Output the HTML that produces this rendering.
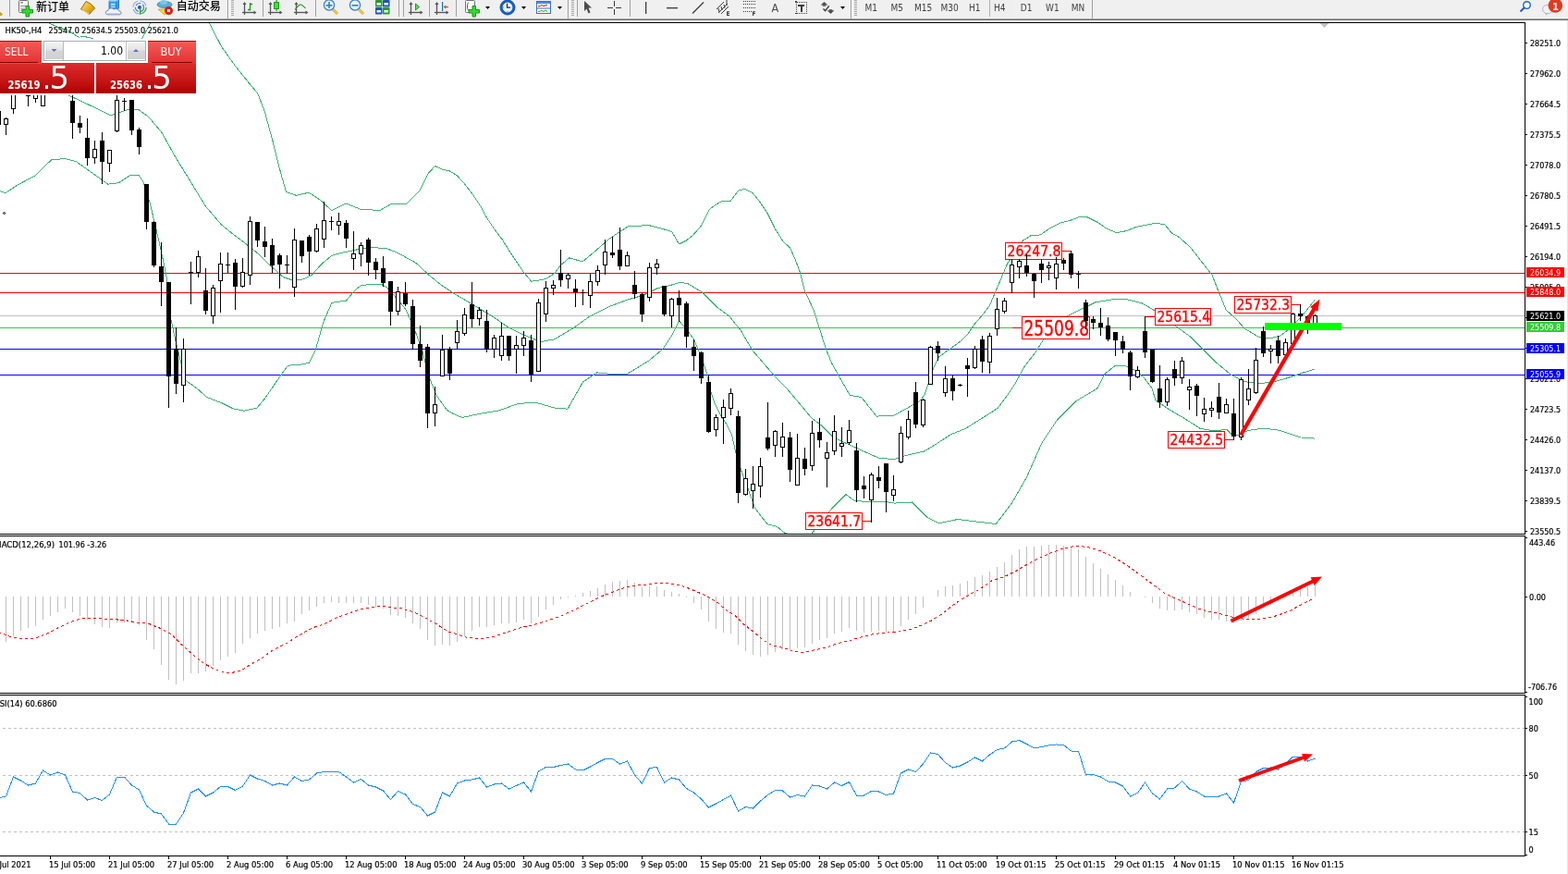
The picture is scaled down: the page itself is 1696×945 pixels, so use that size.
<!DOCTYPE html><html><head><meta charset="utf-8"><title>HK50 H4</title><style>html,body{margin:0;padding:0;background:#fff;overflow:hidden;width:1696px;height:945px}svg text{white-space:pre}.ax text,.axt{stroke:#000;stroke-width:0.2px}</style></head><body><svg width="1696" height="945" viewBox="0 0 1696 945" style="display:block;font-family:'DejaVu Sans Condensed', 'Liberation Sans', 'Noto Sans CJK SC', sans-serif"><defs><clipPath id="cm"><rect x="0" y="25" width="1649" height="552"/></clipPath><clipPath id="cmacd"><rect x="0" y="580" width="1649" height="169"/></clipPath><clipPath id="crsi"><rect x="0" y="752" width="1649" height="173"/></clipPath><linearGradient id="gTop" x1="0" y1="0" x2="0" y2="1"><stop offset="0" stop-color="#f75a5a"/><stop offset="1" stop-color="#e03434"/></linearGradient><linearGradient id="gBot" x1="0" y1="0" x2="0" y2="1"><stop offset="0" stop-color="#dc2c2c"/><stop offset="0.6" stop-color="#c41414"/><stop offset="1" stop-color="#b00000"/></linearGradient><linearGradient id="gBtn" x1="0" y1="0" x2="0" y2="1"><stop offset="0" stop-color="#f2f2f2"/><stop offset="0.45" stop-color="#e4e4e4"/><stop offset="0.5" stop-color="#d6d6d6"/><stop offset="1" stop-color="#d0d0d0"/></linearGradient></defs><rect x="0" y="0" width="1696" height="945" fill="#ffffff"/><defs><pattern id="chk" width="2" height="2" patternUnits="userSpaceOnUse"><rect width="2" height="2" fill="#f7f7f7"/><rect width="1" height="1" fill="#e6e6e6"/><rect x="1" y="1" width="1" height="1" fill="#e6e6e6"/></pattern><radialGradient id="gClock" cx="0.45" cy="0.4" r="0.6"><stop offset="0" stop-color="#ffffff"/><stop offset="1" stop-color="#dfe8f2"/></radialGradient><linearGradient id="gGold" x1="0" y1="0" x2="1" y2="1"><stop offset="0" stop-color="#ffe680"/><stop offset="0.5" stop-color="#e8b820"/><stop offset="1" stop-color="#b07810"/></linearGradient></defs><rect x="0" y="0" width="1696" height="20" fill="#f0f0f0"/><rect x="0" y="19" width="1696" height="1" fill="#f4f4f4"/><rect x="0" y="20" width="1696" height="1" fill="#a3a3a3"/><rect x="0" y="21" width="1696" height="1" fill="#6b6b6b"/><g shape-rendering="crispEdges"><polygon points="0,13 2,14 3,16 1,17 0,17" fill="#d4a020"/><rect x="10" y="0" width="1" height="18" fill="#a0a0a0"/></g><rect x="20.5" y="0.5" width="10" height="13" rx="1" fill="#fff" stroke="#707070" stroke-width="1"/><g fill="#8a8a8a"><rect x="22" y="2" width="3" height="1.5"/><rect x="22" y="6" width="6" height="1"/><rect x="22" y="8.5" width="5" height="1"/><rect x="22" y="10.5" width="3" height="1"/></g><path d="M28,6.5h3.5v4h4v3.5h-4v4h-3.5v-4h-4v-3.5h4z" fill="#2fdc2f" stroke="#139a13" stroke-width="1"/><text x="39" y="11.5" font-size="12" fill="#000" font-family="'Liberation Sans', 'Noto Sans CJK SC', sans-serif" font-weight="500">新订单</text><path d="M93,1.5 Q98,3 102.5,8.5 L96.5,15.5 Q92,12 87.5,10 Z" fill="url(#gGold)" stroke="#9a6010" stroke-width="1"/><path d="M88.5,10.8 Q92.5,12.5 96.3,15" stroke="#fff0b0" stroke-width="0.9" fill="none"/><path d="M98,13 L102.5,9" stroke="#c89030" stroke-width="1.2"/><path d="M118,1.5 L120.5,-1 L128.5,-1 L128.5,9 L126,11.5 L118,11.5 Z" fill="#3aa2f2" stroke="#1a6ac8" stroke-width="0.8"/><path d="M118,1.5 L120.5,-1 L128.5,-1 L126,1.5 Z" fill="#9ad4ff"/><rect x="125.6" y="1.5" width="0.9" height="9.5" fill="#1a78d8"/><rect x="120" y="4" width="4.5" height="1.4" fill="#e0f2ff"/><rect x="120" y="6.8" width="4.5" height="1" fill="#e0f2ff"/><path d="M116.5,15.8 C113.5,15.8 113.5,11.5 116.8,11.5 C117.5,8.2 122,8 123,10.3 C124.5,8.8 128.5,9.5 128.8,12 C131.8,12 131.8,15.8 129,15.8 Z" fill="#eef2fa" stroke="#5a78a8" stroke-width="0.9"/><path d="M116,14.6 L129.5,14.6" stroke="#c8d4ea" stroke-width="1.2"/><g fill="none" stroke-width="1.2"><circle cx="151" cy="8" r="7" stroke="#6a9ad8" stroke-dasharray="9,2" opacity="0.8"/><circle cx="151" cy="8" r="4.5" stroke="#4a7ad0" stroke-dasharray="6,2"/><path d="M151,15 A7,7 0 0 0 158,8" stroke="#50b050"/></g><circle cx="151" cy="8" r="2" fill="#1a4ec0"/><rect x="151" y="8" width="1.2" height="7.5" fill="#22a022"/><path d="M171,10 L178,16 L186,10 Z" fill="#f4d840" stroke="#c8a020" stroke-width="0.8"/><ellipse cx="178" cy="5" rx="8" ry="3.5" fill="#5ab0d8" stroke="#2a80b0" stroke-width="0.8"/><ellipse cx="177" cy="2.5" rx="4" ry="2.5" fill="#7cc8e8"/><circle cx="182.5" cy="11.5" r="4.2" fill="#e02010" stroke="#b01000" stroke-width="0.6"/><rect x="181" y="10" width="3" height="3" fill="#fff"/><text x="190.8" y="11.2" font-size="12" fill="#000" font-family="'Liberation Sans', 'Noto Sans CJK SC', sans-serif" font-weight="500">自动交易</text><g shape-rendering="crispEdges"><rect x="246" y="0" width="1" height="20" fill="#9a9a9a"/><rect x="247" y="0" width="1" height="20" fill="#ffffff"/><rect x="250" y="0" width="3" height="1" fill="#a8a8a8"/><rect x="250" y="2" width="3" height="1" fill="#a8a8a8"/><rect x="250" y="4" width="3" height="1" fill="#a8a8a8"/><rect x="250" y="6" width="3" height="1" fill="#a8a8a8"/><rect x="250" y="8" width="3" height="1" fill="#a8a8a8"/><rect x="250" y="10" width="3" height="1" fill="#a8a8a8"/><rect x="250" y="12" width="3" height="1" fill="#a8a8a8"/><rect x="250" y="14" width="3" height="1" fill="#a8a8a8"/><rect x="250" y="16" width="3" height="1" fill="#a8a8a8"/></g><g stroke="#555" stroke-width="1.3" fill="none"><line x1="264.5" y1="3" x2="264.5" y2="16"/><line x1="262" y1="13.5" x2="276" y2="13.5"/></g><polygon points="264.5,2 262.5,5 266.5,5" fill="#555"/><polygon points="277.5,13.5 274.5,11.5 274.5,15.5" fill="#555"/><g stroke="#1a9a1a" stroke-width="1.3" fill="none"><path d="M270.5,3 V11.5 M270.5,4.5 H273 M270.5,10.5 H268"/></g><g shape-rendering="crispEdges"><rect x="284" y="0" width="1" height="18" fill="#a0a0a0"/></g><rect x="285" y="0" width="24" height="18" fill="url(#chk)"/><g stroke="#555" stroke-width="1.3" fill="none"><line x1="292.5" y1="3" x2="292.5" y2="16"/><line x1="290" y1="13.5" x2="304" y2="13.5"/></g><polygon points="292.5,2 290.5,5 294.5,5" fill="#555"/><polygon points="305.5,13.5 302.5,11.5 302.5,15.5" fill="#555"/><rect x="298.5" y="0" width="1.2" height="12" fill="#1a9a1a"/><rect x="296.5" y="2.5" width="5" height="7" fill="#3ee03e" stroke="#1a9a1a" stroke-width="1"/><g stroke="#555" stroke-width="1.3" fill="none"><line x1="320.5" y1="3" x2="320.5" y2="16"/><line x1="318" y1="13.5" x2="332" y2="13.5"/></g><polygon points="320.5,2 318.5,5 322.5,5" fill="#555"/><polygon points="333.5,13.5 330.5,11.5 330.5,15.5" fill="#555"/><path d="M319,10.5 C322,7 324,4.5 325.5,5 C327.5,5.5 328.5,7.5 330.5,9" stroke="#2a9a2a" stroke-width="1.2" fill="none"/><g shape-rendering="crispEdges"><rect x="341" y="0" width="1" height="18" fill="#a0a0a0"/></g><line x1="360" y1="10" x2="365" y2="15" stroke="#c89a10" stroke-width="2.6"/><line x1="360" y1="10" x2="365" y2="15" stroke="#f8d850" stroke-width="1.2"/><circle cx="356" cy="5.5" r="5.6" fill="#e4f4fc" stroke="#3a78c8" stroke-width="1.2"/><rect x="352.5" y="5" width="7" height="1.6" fill="#3a80a8"/><rect x="355.2" y="2" width="1.6" height="7" fill="#3a80a8"/><line x1="388" y1="10" x2="393" y2="15" stroke="#c89a10" stroke-width="2.6"/><line x1="388" y1="10" x2="393" y2="15" stroke="#f8d850" stroke-width="1.2"/><circle cx="384" cy="5.5" r="5.6" fill="#e4f4fc" stroke="#3a78c8" stroke-width="1.2"/><rect x="380.5" y="5" width="7" height="1.6" fill="#3a80a8"/><rect x="406" y="0" width="7.5" height="7.5" rx="0.8" fill="#2a9a2a"/><rect x="407.5" y="3" width="4.5" height="2.5" fill="#fff"/><rect x="414" y="0" width="7.5" height="7.5" rx="0.8" fill="#2050c8"/><rect x="415.5" y="3" width="4.5" height="2.5" fill="#fff"/><rect x="406" y="8" width="7.5" height="7.5" rx="0.8" fill="#2050c8"/><rect x="407.5" y="11" width="4.5" height="2.5" fill="#fff"/><rect x="414" y="8" width="7.5" height="7.5" rx="0.8" fill="#2a9a2a"/><rect x="415.5" y="11" width="4.5" height="2.5" fill="#fff"/><g shape-rendering="crispEdges"><rect x="431" y="0" width="1" height="18" fill="#a0a0a0"/><rect x="436" y="0" width="1" height="18" fill="#a0a0a0"/></g><rect x="437" y="0" width="24" height="18" fill="url(#chk)"/><g stroke="#555" stroke-width="1.3" fill="none"><line x1="444.5" y1="3" x2="444.5" y2="16"/><line x1="442" y1="13.5" x2="456" y2="13.5"/></g><polygon points="444.5,2 442.5,5 446.5,5" fill="#555"/><polygon points="457.5,13.5 454.5,11.5 454.5,15.5" fill="#555"/><polygon points="449.5,4 453.5,7.5 449.5,11" fill="#5ee05e" stroke="#1a9a1a" stroke-width="1"/><g shape-rendering="crispEdges"><rect x="464" y="0" width="1" height="18" fill="#a0a0a0"/></g><rect x="465" y="0" width="24" height="18" fill="url(#chk)"/><g stroke="#555" stroke-width="1.3" fill="none"><line x1="472.5" y1="3" x2="472.5" y2="16"/><line x1="470" y1="13.5" x2="484" y2="13.5"/></g><polygon points="472.5,2 470.5,5 474.5,5" fill="#555"/><polygon points="485.5,13.5 482.5,11.5 482.5,15.5" fill="#555"/><rect x="478" y="2" width="1.2" height="10" fill="#1a70b0"/><polygon points="479.5,7.5 482.5,5.5 482.5,9.5" fill="#e05010"/><rect x="482" y="7" width="3" height="1.2" fill="#e05010"/><g shape-rendering="crispEdges"><rect x="493" y="0" width="1" height="18" fill="#a0a0a0"/></g><rect x="503.5" y="0.5" width="10" height="13" rx="1" fill="#fff" stroke="#707070" stroke-width="1"/><path d="M507,3 C505.5,3 505.5,5 505.5,7 C505.5,9 505.5,11 507,11" stroke="#404020" fill="none" stroke-width="0.9"/><path d="M511,6.5h3.5v4h4v3.5h-4v4h-3.5v-4h-4v-3.5h4z" fill="#2fdc2f" stroke="#139a13" stroke-width="1"/><polygon points="525,7 530,7 527.5,10" fill="#000"/><circle cx="549" cy="8" r="6.8" fill="url(#gClock)" stroke="#1760c8" stroke-width="2.8"/><circle cx="549" cy="8" r="8.1" fill="none" stroke="#0a4aa8" stroke-width="0.6"/><path d="M548.5,3.8 V8.2 H552" stroke="#202020" stroke-width="1.2" fill="none"/><g fill="#888"><rect x="548.5" y="12" width="1" height="1"/><rect x="544" y="7.5" width="1" height="1"/><rect x="553.5" y="7.5" width="1" height="1"/></g><polygon points="564,7 569,7 566.5,10" fill="#000"/><rect x="580.5" y="1.5" width="15" height="13" fill="#fff" stroke="#3a70c0" stroke-width="1"/><rect x="581" y="2" width="14" height="2" fill="#5a8ad8"/><rect x="581" y="8.5" width="14" height="1" fill="#3a70c0"/><polyline points="582,7 584.5,6.5 586,5.5 588,6.5 590,6 592,5" stroke="#a02010" fill="none" stroke-width="1"/><polyline points="582,12.5 584.5,12 586,11.5 588,12.5 590,11 592,12.5" stroke="#20a020" fill="none" stroke-width="1"/><polygon points="603,7 608,7 605.5,10" fill="#000"/><g shape-rendering="crispEdges"><rect x="614" y="0" width="1" height="20" fill="#9a9a9a"/><rect x="615" y="0" width="1" height="20" fill="#ffffff"/><rect x="618" y="0" width="3" height="1" fill="#a8a8a8"/><rect x="618" y="2" width="3" height="1" fill="#a8a8a8"/><rect x="618" y="4" width="3" height="1" fill="#a8a8a8"/><rect x="618" y="6" width="3" height="1" fill="#a8a8a8"/><rect x="618" y="8" width="3" height="1" fill="#a8a8a8"/><rect x="618" y="10" width="3" height="1" fill="#a8a8a8"/><rect x="618" y="12" width="3" height="1" fill="#a8a8a8"/><rect x="618" y="14" width="3" height="1" fill="#a8a8a8"/><rect x="618" y="16" width="3" height="1" fill="#a8a8a8"/><rect x="624" y="0" width="1" height="18" fill="#a0a0a0"/></g><rect x="625" y="0" width="24" height="18" fill="url(#chk)"/><path d="M632,1 L632,12 L634.5,9.5 L636.5,14.5 L638.5,13.5 L636.5,8.5 L640,8.5 Z" fill="#4a4a4a"/><g fill="#3a3a3a" shape-rendering="crispEdges"><rect x="664" y="1" width="1" height="6"/><rect x="664" y="10" width="1" height="6"/><rect x="657" y="8" width="6" height="1"/><rect x="666" y="8" width="6" height="1"/></g><g shape-rendering="crispEdges"><rect x="681" y="0" width="1" height="18" fill="#a0a0a0"/></g><rect x="698" y="2" width="1.3" height="13" fill="#3a3a3a"/><rect x="721" y="8" width="12" height="1.3" fill="#3a3a3a"/><line x1="749" y1="14.5" x2="761" y2="2.5" stroke="#3a3a3a" stroke-width="1.2"/><g stroke="#3a3a3a" stroke-width="1" fill="none"><line x1="775" y1="10" x2="783" y2="2"/><line x1="777" y1="14" x2="787" y2="4"/><line x1="780" y1="15" x2="788" y2="7"/><line x1="777" y1="9" x2="778" y2="13"/><line x1="780" y1="7" x2="781" y2="11"/><line x1="783" y1="5" x2="784" y2="9"/><line x1="786" y1="0" x2="786" y2="6"/></g><text x="785.5" y="17" font-size="6.5" font-weight="bold" fill="#3a3a3a">E</text><g fill="#3a3a3a" shape-rendering="crispEdges"><rect x="804" y="1" width="1" height="1"/><rect x="806" y="1" width="1" height="1"/><rect x="808" y="1" width="1" height="1"/><rect x="810" y="1" width="1" height="1"/><rect x="812" y="1" width="1" height="1"/><rect x="814" y="1" width="1" height="1"/><rect x="816" y="1" width="1" height="1"/><rect x="804" y="4" width="1" height="1"/><rect x="806" y="4" width="1" height="1"/><rect x="808" y="4" width="1" height="1"/><rect x="810" y="4" width="1" height="1"/><rect x="812" y="4" width="1" height="1"/><rect x="814" y="4" width="1" height="1"/><rect x="816" y="4" width="1" height="1"/><rect x="804" y="8" width="1" height="1"/><rect x="806" y="8" width="1" height="1"/><rect x="808" y="8" width="1" height="1"/><rect x="810" y="8" width="1" height="1"/><rect x="812" y="8" width="1" height="1"/><rect x="814" y="8" width="1" height="1"/><rect x="816" y="8" width="1" height="1"/><rect x="804" y="12" width="1" height="1"/><rect x="806" y="12" width="1" height="1"/><rect x="808" y="12" width="1" height="1"/><rect x="810" y="12" width="1" height="1"/><rect x="812" y="12" width="1" height="1"/></g><text x="813.5" y="17" font-size="6.5" font-weight="bold" fill="#3a3a3a">F</text><text x="834.5" y="13" font-size="12.5" fill="#4a4a4a">A</text><g fill="#3a3a3a" shape-rendering="crispEdges"><rect x="860" y="2" width="1" height="1"/><rect x="860" y="14" width="1" height="1"/><rect x="862" y="2" width="1" height="1"/><rect x="862" y="14" width="1" height="1"/><rect x="864" y="2" width="1" height="1"/><rect x="864" y="14" width="1" height="1"/><rect x="866" y="2" width="1" height="1"/><rect x="866" y="14" width="1" height="1"/><rect x="868" y="2" width="1" height="1"/><rect x="868" y="14" width="1" height="1"/><rect x="870" y="2" width="1" height="1"/><rect x="870" y="14" width="1" height="1"/><rect x="872" y="2" width="1" height="1"/><rect x="872" y="14" width="1" height="1"/><rect x="861" y="2" width="1" height="1"/><rect x="872" y="2" width="1" height="1"/><rect x="861" y="4" width="1" height="1"/><rect x="872" y="4" width="1" height="1"/><rect x="861" y="6" width="1" height="1"/><rect x="872" y="6" width="1" height="1"/><rect x="861" y="8" width="1" height="1"/><rect x="872" y="8" width="1" height="1"/><rect x="861" y="10" width="1" height="1"/><rect x="872" y="10" width="1" height="1"/><rect x="861" y="12" width="1" height="1"/><rect x="872" y="12" width="1" height="1"/><rect x="861" y="14" width="1" height="1"/><rect x="872" y="14" width="1" height="1"/><rect x="863" y="5" width="7" height="1.5"/><rect x="866" y="5" width="1.5" height="8"/></g><polygon points="891.5,2 895.3,5.6 887.7,5.6" fill="#4a4a4a"/><rect x="889.8" y="5.3" width="3.4" height="1.4" fill="#4a4a4a"/><polygon points="898.5,15 902.3,11.3 894.7,11.3" fill="#4a4a4a"/><rect x="896.8" y="10.2" width="3.4" height="1.4" fill="#4a4a4a"/><polyline points="890.5,9.4 892.6,11.6 896.8,6.4" stroke="#3a3a3a" stroke-width="1.4" fill="none"/><rect x="860" y="1" width="2" height="1.5" fill="#4a4a4a"/><polygon points="909,7 914,7 911.5,10" fill="#000"/><g shape-rendering="crispEdges"><rect x="920" y="0" width="1" height="20" fill="#9a9a9a"/><rect x="921" y="0" width="1" height="20" fill="#ffffff"/><rect x="924" y="0" width="3" height="1" fill="#a8a8a8"/><rect x="924" y="2" width="3" height="1" fill="#a8a8a8"/><rect x="924" y="4" width="3" height="1" fill="#a8a8a8"/><rect x="924" y="6" width="3" height="1" fill="#a8a8a8"/><rect x="924" y="8" width="3" height="1" fill="#a8a8a8"/><rect x="924" y="10" width="3" height="1" fill="#a8a8a8"/><rect x="924" y="12" width="3" height="1" fill="#a8a8a8"/><rect x="924" y="14" width="3" height="1" fill="#a8a8a8"/><rect x="924" y="16" width="3" height="1" fill="#a8a8a8"/></g><rect x="1071" y="0" width="25" height="18" fill="url(#chk)"/><g shape-rendering="crispEdges"><rect x="1070" y="0" width="1" height="18" fill="#b0b0b0"/></g><text x="935.5" y="12" font-size="10" fill="#404040">M1</text><text x="963.5" y="12" font-size="10" fill="#404040">M5</text><text x="989" y="12" font-size="10" fill="#404040">M15</text><text x="1017.5" y="12" font-size="10" fill="#404040">M30</text><text x="1048" y="12" font-size="10" fill="#404040">H1</text><text x="1075" y="12" font-size="10" fill="#404040">H4</text><text x="1103.8" y="12" font-size="10" fill="#404040">D1</text><text x="1131" y="12" font-size="10" fill="#404040">W1</text><text x="1158.8" y="12" font-size="10" fill="#404040">MN</text><g shape-rendering="crispEdges"><rect x="1181" y="0" width="1" height="20" fill="#a0a0a0"/></g><circle cx="1651.5" cy="5.5" r="3.8" fill="#fff" stroke="#2060d0" stroke-width="1.4"/><line x1="1649" y1="8" x2="1644.5" y2="12.5" stroke="#2060d0" stroke-width="2.2"/><ellipse cx="1674" cy="10" rx="5.5" ry="4.8" fill="#eef0f6" stroke="#a8a8b0" stroke-width="0.8"/><polygon points="1671,14 1672.5,16.5 1674,14.5" fill="#b0b0b8"/><circle cx="1682.3" cy="6" r="7.8" fill="#e03a20"/><text x="1679" y="10.5" font-size="11" font-weight="bold" fill="#fff">1</text><g shape-rendering="crispEdges" fill="#000"><rect x="0" y="24" width="1650" height="1"/><rect x="0" y="577" width="1650" height="1"/><rect x="0" y="579" width="1650" height="1"/><rect x="0" y="749" width="1650" height="1"/><rect x="0" y="751" width="1650" height="1"/><rect x="0" y="925" width="1650" height="1"/><rect x="1649" y="24" width="1" height="554"/><rect x="1649" y="579" width="1" height="171"/><rect x="1649" y="751" width="1" height="175"/></g><rect x="1695" y="22" width="1" height="923" fill="#e3e3e3"/><g clip-path="url(#cm)"><g shape-rendering="crispEdges"><rect x="0" y="295" width="1649" height="1" fill="#ff0000"/><rect x="0" y="316" width="1649" height="1" fill="#ff0000"/><rect x="0" y="341" width="1649" height="1" fill="#c0c0c0"/><rect x="0" y="354" width="1649" height="1" fill="#32cd32"/><rect x="0" y="377" width="1649" height="1" fill="#0000ff"/><rect x="0" y="405" width="1649" height="1" fill="#0000ff"/></g><polyline points="40.0,10.0 53.0,25.1 62.3,29.1 73.6,33.3 84.9,40.1 92.0,39.7 100.5,41.5 110.0,50.0 125.0,56.0 140.0,52.0 150.0,46.0 153.5,41.8 162.7,25.1 168.0,14.0 190.0,5.0 215.0,8.0 222.0,16.0 226.4,25.1 239.5,50.3 254.0,70.7 265.7,85.3 278.9,101.4 286.2,120.4 295.0,152.5 302.2,181.7 309.5,207.4 320.3,211.3 334.1,208.2 346.4,216.2 358.6,227.6 374.0,219.9 389.3,226.0 410.8,227.6 423.0,220.5 440.0,220.1 454.4,205.4 462.9,187.9 470.5,179.5 478.9,183.4 485.7,184.6 494.2,189.6 502.6,198.9 511.1,210.0 519.6,222.6 526.4,235.3 534.8,248.0 543.3,259.0 550.1,270.0 558.5,282.8 566.1,293.8 574.6,304.3 582.2,303.1 590.7,301.4 600.0,295.5 606.0,287.0 615.7,278.8 630.2,282.9 642.6,272.6 659.1,258.1 679.7,244.5 702.4,243.7 720.0,248.4 726.8,250.6 734.4,264.0 742.0,260.3 749.6,254.3 758.1,244.5 767.4,226.4 774.2,221.3 781.8,217.1 790.3,217.1 798.7,206.1 805.5,204.4 814.0,208.6 821.6,217.9 830.1,230.6 838.5,247.6 847.0,261.1 854.6,267.9 860.5,281.4 865.6,295.0 870.7,315.3 880.0,334.8 886.8,356.5 893.4,377.6 900.0,393.5 919.2,427.4 931.6,429.4 948.1,450.1 966.7,449.3 984.0,439.8 994.8,433.6 1000.0,426.8 1009.5,398.3 1015.9,385.6 1027.0,377.6 1038.1,369.7 1047.6,360.2 1054.0,350.6 1063.5,339.5 1070.6,330.0 1089.7,285.0 1106.3,260.2 1114.8,254.9 1125.4,253.9 1136.0,246.5 1146.6,241.2 1157.1,238.6 1167.7,234.4 1176.2,234.8 1186.8,240.1 1197.4,247.5 1207.9,251.7 1218.5,249.6 1229.1,245.4 1239.7,243.3 1250.3,241.2 1260.0,242.9 1267.2,251.9 1275.4,256.5 1288.1,267.9 1300.8,284.4 1310.9,297.1 1318.5,316.2 1326.2,335.2 1336.3,344.1 1346.5,355.5 1361.7,364.4 1374.4,365.7 1384.6,363.1 1394.7,355.5 1407.4,342.8 1422.0,324.5" fill="none" stroke="#3cb371" stroke-width="1" shape-rendering="crispEdges"/><polyline points="0.0,80.0 30.0,85.0 60.0,95.0 75.0,103.4 93.4,112.0 119.7,124.7 137.0,119.0 149.0,118.0 160.6,126.2 175.2,143.7 189.8,170.0 204.4,193.4 222.0,222.6 239.5,243.0 254.0,254.7 265.7,263.5 280.3,275.1 292.0,286.8 306.5,299.7 315.7,302.7 324.9,302.7 330.0,301.1 336.7,297.8 347.8,285.6 358.9,276.2 372.2,272.7 385.6,270.0 401.1,267.8 416.7,268.2 430.0,273.3 450.0,284.4 463.3,296.7 476.7,307.8 490.0,316.7 502.8,324.2 518.2,333.4 533.5,342.6 548.9,353.3 564.2,361.0 584.8,369.6 600.0,366.8 620.3,354.6 638.1,341.9 658.4,331.7 678.7,324.1 696.5,319.0 711.7,311.4 720.0,309.9 735.2,305.5 743.7,306.5 758.9,315.6 775.9,332.2 789.4,342.4 794.5,349.2 800.8,356.5 814.0,379.0 830.0,397.5 838.0,406.7 851.0,420.0 864.3,435.8 877.6,451.7 888.0,459.6 900.0,471.5 906.3,475.3 927.5,484.9 950.8,495.4 967.7,496.5 980.4,492.3 999.5,488.0 1012.7,480.0 1028.6,469.7 1044.4,463.3 1057.1,455.4 1068.3,448.3 1079.4,441.1 1088.9,428.4 1098.4,414.1 1107.9,396.7 1120.0,380.8 1131.0,363.4 1147.5,348.9 1155.0,341.7 1169.8,334.3 1184.7,326.9 1205.8,323.3 1218.5,323.7 1235.4,327.9 1248.1,335.3 1259.0,346.9 1270.3,351.7 1288.1,364.4 1300.8,377.1 1316.0,392.3 1331.2,405.0 1346.5,412.6 1361.7,414.7 1376.9,413.1 1392.2,408.8 1407.4,403.7 1422.0,399.0" fill="none" stroke="#3cb371" stroke-width="1" shape-rendering="crispEdges"/><polyline points="0.0,206.5 5.8,208.6 20.4,199.2 38.0,189.9 55.5,172.9 70.0,171.5 81.8,174.4 96.4,184.6 116.8,199.2 128.5,197.7 140.2,189.9 150.4,189.9 154.8,196.3 162.3,219.9 174.5,272.0 180.7,302.7 184.8,344.8 191.4,375.2 201.0,411.4 214.3,421.0 223.8,429.5 241.0,436.2 252.4,441.9 263.8,444.2 278.1,441.0 286.7,430.5 303.8,405.7 311.4,395.2 324.8,394.3 330.0,393.3 334.4,392.2 341.1,378.9 350.0,347.8 358.9,327.3 374.4,325.1 383.3,314.4 391.1,308.2 412.2,307.3 418.9,311.1 427.8,321.1 438.9,334.4 447.8,354.4 456.7,378.9 463.3,405.6 472.2,427.8 483.3,443.3 490.0,447.3 499.8,451.5 518.2,447.5 539.6,443.9 561.1,436.2 580.6,435.6 600.0,441.0 614.0,442.2 630.5,413.0 645.7,402.9 658.4,404.1 678.7,404.1 701.6,390.2 716.8,377.5 727.0,362.2 734.6,347.0 741.6,355.1 750.6,367.0 758.5,385.6 763.8,401.4 767.8,420.0 773.0,435.8 779.7,449.0 786.3,459.6 791.6,470.2 795.6,488.7 802.2,510.0 810.0,531.0 816.7,549.6 830.0,566.8 840.5,569.4 848.5,576.0 860.0,581.0 870.0,580.0 877.6,577.4 900.0,549.6 915.0,534.7 923.3,540.9 939.8,543.0 955.0,542.0 967.7,544.1 986.5,543.0 1003.0,559.5 1015.4,565.7 1036.0,561.5 1052.6,563.6 1077.3,566.5 1093.8,545.0 1110.4,516.1 1126.9,479.0 1143.4,454.2 1164.0,433.6 1186.8,420.0 1195.2,404.1 1205.8,395.7 1216.4,395.2 1227.0,399.9 1237.6,408.4 1246.0,420.0 1250.0,433.0 1265.2,443.1 1280.5,452.0 1298.2,463.4 1313.5,466.0 1326.6,464.2 1334.0,471.5 1339.9,470.0 1343.9,467.2 1356.6,464.2 1369.3,463.4 1384.6,465.4 1397.2,469.7 1407.4,473.0 1422.0,474.1" fill="none" stroke="#3cb371" stroke-width="1" shape-rendering="crispEdges"/><rect x="1149" y="271" width="10" height="1" fill="#ff0000" shape-rendering="crispEdges"/><rect x="1087.5" y="262.5" width="61" height="18" fill="#fff" stroke="#ff0000" stroke-width="1" shape-rendering="crispEdges"/><text x="1089.5" y="277.3" font-size="16" fill="#ff0000" stroke="#ff0000" stroke-width="0.35" textLength="58" lengthAdjust="spacingAndGlyphs">26247.8</text><rect x="1095" y="354" width="10" height="1" fill="#ff0000" shape-rendering="crispEdges"/><rect x="1105.5" y="342.5" width="73" height="24" fill="#fff" stroke="#ff0000" stroke-width="1" shape-rendering="crispEdges"/><text x="1107.5" y="362.5" font-size="22.2" fill="#ff0000" stroke="#ff0000" stroke-width="0.35" textLength="70.5" lengthAdjust="spacingAndGlyphs">25509.8</text><rect x="1239" y="342" width="10" height="1" fill="#ff0000" shape-rendering="crispEdges"/><rect x="1249.5" y="333.5" width="60" height="18" fill="#fff" stroke="#ff0000" stroke-width="1" shape-rendering="crispEdges"/><text x="1251.5" y="348.3" font-size="16" fill="#ff0000" stroke="#ff0000" stroke-width="0.35" textLength="57.5" lengthAdjust="spacingAndGlyphs">25615.4</text><rect x="1397" y="329" width="10" height="1" fill="#ff0000" shape-rendering="crispEdges"/><rect x="1335.5" y="320.5" width="61" height="18" fill="#fff" stroke="#ff0000" stroke-width="1" shape-rendering="crispEdges"/><text x="1337.5" y="335.3" font-size="16" fill="#ff0000" stroke="#ff0000" stroke-width="0.35" textLength="57.5" lengthAdjust="spacingAndGlyphs">25732.3</text><rect x="1325" y="475" width="10" height="1" fill="#ff0000" shape-rendering="crispEdges"/><rect x="1263.5" y="466.5" width="61" height="18" fill="#fff" stroke="#ff0000" stroke-width="1" shape-rendering="crispEdges"/><text x="1265.5" y="481.3" font-size="16" fill="#ff0000" stroke="#ff0000" stroke-width="0.35" textLength="57.5" lengthAdjust="spacingAndGlyphs">24432.5</text><rect x="933" y="563" width="10" height="1" fill="#ff0000" shape-rendering="crispEdges"/><rect x="871.5" y="554.5" width="61" height="18" fill="#fff" stroke="#ff0000" stroke-width="1" shape-rendering="crispEdges"/><text x="873.5" y="569.3" font-size="16" fill="#ff0000" stroke="#ff0000" stroke-width="0.35" textLength="57.5" lengthAdjust="spacingAndGlyphs">23641.7</text><g fill="#000" shape-rendering="crispEdges"></g><g shape-rendering="crispEdges"><rect x="-2" y="117" width="1" height="22" fill="#000"/><rect x="-4" y="120" width="5" height="15" fill="#000"/><rect x="6" y="127" width="1" height="19" fill="#000"/><rect x="4" y="128" width="5" height="7" fill="#000"/><rect x="5" y="129" width="3" height="5" fill="#fff"/><rect x="14" y="90" width="1" height="33" fill="#000"/><rect x="12" y="95" width="5" height="23" fill="#000"/><rect x="13" y="96" width="3" height="21" fill="#fff"/><rect x="22" y="65" width="1" height="34" fill="#000"/><rect x="20" y="70" width="5" height="26" fill="#000"/><rect x="21" y="71" width="3" height="24" fill="#fff"/><rect x="30" y="75" width="1" height="40" fill="#000"/><rect x="28" y="80" width="5" height="24" fill="#000"/><rect x="38" y="80" width="1" height="31" fill="#000"/><rect x="36" y="85" width="5" height="22" fill="#000"/><rect x="37" y="86" width="3" height="20" fill="#fff"/><rect x="46" y="75" width="1" height="40" fill="#000"/><rect x="44" y="80" width="5" height="35" fill="#000"/><rect x="45" y="81" width="3" height="33" fill="#fff"/><rect x="54" y="55" width="1" height="41" fill="#000"/><rect x="52" y="60" width="5" height="31" fill="#000"/><rect x="53" y="61" width="3" height="29" fill="#fff"/><rect x="62" y="50" width="1" height="41" fill="#000"/><rect x="60" y="55" width="5" height="26" fill="#000"/><rect x="70" y="55" width="1" height="44" fill="#000"/><rect x="68" y="60" width="5" height="36" fill="#000"/><rect x="69" y="61" width="3" height="34" fill="#fff"/><rect x="78" y="95" width="1" height="55" fill="#000"/><rect x="76" y="109" width="5" height="24" fill="#000"/><rect x="86" y="125" width="1" height="19" fill="#000"/><rect x="84" y="133" width="5" height="5" fill="#000"/><rect x="94" y="128" width="1" height="51" fill="#000"/><rect x="92" y="149" width="5" height="22" fill="#000"/><rect x="102" y="152" width="1" height="25" fill="#000"/><rect x="100" y="161" width="5" height="10" fill="#000"/><rect x="101" y="162" width="3" height="8" fill="#fff"/><rect x="110" y="143" width="1" height="56" fill="#000"/><rect x="108" y="152" width="5" height="23" fill="#000"/><rect x="118" y="162" width="1" height="24" fill="#000"/><rect x="116" y="162" width="5" height="15" fill="#000"/><rect x="117" y="163" width="3" height="13" fill="#fff"/><rect x="126" y="98" width="1" height="45" fill="#000"/><rect x="124" y="108" width="5" height="34" fill="#000"/><rect x="125" y="109" width="3" height="32" fill="#fff"/><rect x="134" y="106" width="1" height="14" fill="#000"/><rect x="132" y="109" width="5" height="1" fill="#000"/><rect x="142" y="108" width="1" height="38" fill="#000"/><rect x="140" y="108" width="5" height="33" fill="#000"/><rect x="150" y="138" width="1" height="29" fill="#000"/><rect x="148" y="140" width="5" height="19" fill="#000"/><rect x="158" y="199" width="1" height="49" fill="#000"/><rect x="156" y="199" width="5" height="41" fill="#000"/><rect x="166" y="239" width="1" height="50" fill="#000"/><rect x="164" y="240" width="5" height="47" fill="#000"/><rect x="174" y="262" width="1" height="69" fill="#000"/><rect x="172" y="288" width="5" height="17" fill="#000"/><rect x="182" y="305" width="1" height="136" fill="#000"/><rect x="180" y="305" width="5" height="102" fill="#000"/><rect x="190" y="354" width="1" height="72" fill="#000"/><rect x="188" y="377" width="5" height="38" fill="#000"/><rect x="198" y="366" width="1" height="69" fill="#000"/><rect x="196" y="377" width="5" height="40" fill="#000"/><rect x="197" y="378" width="3" height="38" fill="#fff"/><rect x="206" y="283" width="1" height="46" fill="#000"/><rect x="204" y="294" width="5" height="1" fill="#000"/><rect x="214" y="271" width="1" height="29" fill="#000"/><rect x="212" y="277" width="5" height="18" fill="#000"/><rect x="213" y="278" width="3" height="16" fill="#fff"/><rect x="222" y="290" width="1" height="50" fill="#000"/><rect x="220" y="314" width="5" height="22" fill="#000"/><rect x="230" y="308" width="1" height="42" fill="#000"/><rect x="228" y="311" width="5" height="31" fill="#000"/><rect x="229" y="312" width="3" height="29" fill="#fff"/><rect x="238" y="273" width="1" height="65" fill="#000"/><rect x="236" y="285" width="5" height="19" fill="#000"/><rect x="237" y="286" width="3" height="17" fill="#fff"/><rect x="246" y="273" width="1" height="22" fill="#000"/><rect x="244" y="286" width="5" height="1" fill="#000"/><rect x="254" y="280" width="1" height="55" fill="#000"/><rect x="252" y="284" width="5" height="26" fill="#000"/><rect x="262" y="279" width="1" height="32" fill="#000"/><rect x="260" y="294" width="5" height="16" fill="#000"/><rect x="261" y="295" width="3" height="14" fill="#fff"/><rect x="270" y="234" width="1" height="74" fill="#000"/><rect x="268" y="239" width="5" height="59" fill="#000"/><rect x="269" y="240" width="3" height="57" fill="#fff"/><rect x="278" y="240" width="1" height="27" fill="#000"/><rect x="276" y="240" width="5" height="20" fill="#000"/><rect x="286" y="245" width="1" height="33" fill="#000"/><rect x="284" y="261" width="5" height="6" fill="#000"/><rect x="294" y="258" width="1" height="37" fill="#000"/><rect x="292" y="265" width="5" height="22" fill="#000"/><rect x="302" y="274" width="1" height="38" fill="#000"/><rect x="300" y="276" width="5" height="10" fill="#000"/><rect x="310" y="276" width="1" height="20" fill="#000"/><rect x="308" y="286" width="5" height="1" fill="#000"/><rect x="318" y="247" width="1" height="74" fill="#000"/><rect x="316" y="259" width="5" height="52" fill="#000"/><rect x="317" y="260" width="3" height="50" fill="#fff"/><rect x="326" y="260" width="1" height="24" fill="#000"/><rect x="324" y="260" width="5" height="17" fill="#000"/><rect x="334" y="254" width="1" height="44" fill="#000"/><rect x="332" y="256" width="5" height="16" fill="#000"/><rect x="342" y="242" width="1" height="31" fill="#000"/><rect x="340" y="247" width="5" height="25" fill="#000"/><rect x="341" y="248" width="3" height="23" fill="#fff"/><rect x="350" y="218" width="1" height="50" fill="#000"/><rect x="348" y="238" width="5" height="21" fill="#000"/><rect x="349" y="239" width="3" height="19" fill="#fff"/><rect x="358" y="234" width="1" height="15" fill="#000"/><rect x="356" y="239" width="5" height="1" fill="#000"/><rect x="366" y="230" width="1" height="24" fill="#000"/><rect x="364" y="239" width="5" height="5" fill="#000"/><rect x="365" y="240" width="3" height="3" fill="#fff"/><rect x="374" y="238" width="1" height="30" fill="#000"/><rect x="372" y="241" width="5" height="17" fill="#000"/><rect x="382" y="250" width="1" height="42" fill="#000"/><rect x="380" y="274" width="5" height="6" fill="#000"/><rect x="381" y="275" width="3" height="4" fill="#fff"/><rect x="390" y="262" width="1" height="26" fill="#000"/><rect x="388" y="265" width="5" height="10" fill="#000"/><rect x="389" y="266" width="3" height="8" fill="#fff"/><rect x="398" y="257" width="1" height="41" fill="#000"/><rect x="396" y="259" width="5" height="25" fill="#000"/><rect x="406" y="279" width="1" height="23" fill="#000"/><rect x="404" y="283" width="5" height="9" fill="#000"/><rect x="414" y="277" width="1" height="33" fill="#000"/><rect x="412" y="290" width="5" height="16" fill="#000"/><rect x="422" y="304" width="1" height="48" fill="#000"/><rect x="420" y="304" width="5" height="33" fill="#000"/><rect x="430" y="310" width="1" height="31" fill="#000"/><rect x="428" y="315" width="5" height="22" fill="#000"/><rect x="429" y="316" width="3" height="20" fill="#fff"/><rect x="438" y="305" width="1" height="26" fill="#000"/><rect x="436" y="317" width="5" height="12" fill="#000"/><rect x="446" y="324" width="1" height="54" fill="#000"/><rect x="444" y="331" width="5" height="41" fill="#000"/><rect x="454" y="352" width="1" height="45" fill="#000"/><rect x="452" y="372" width="5" height="18" fill="#000"/><rect x="462" y="372" width="1" height="91" fill="#000"/><rect x="460" y="375" width="5" height="72" fill="#000"/><rect x="470" y="418" width="1" height="43" fill="#000"/><rect x="468" y="437" width="5" height="10" fill="#000"/><rect x="469" y="438" width="3" height="8" fill="#fff"/><rect x="478" y="362" width="1" height="45" fill="#000"/><rect x="476" y="378" width="5" height="29" fill="#000"/><rect x="477" y="379" width="3" height="27" fill="#fff"/><rect x="486" y="375" width="1" height="36" fill="#000"/><rect x="484" y="377" width="5" height="27" fill="#000"/><rect x="494" y="346" width="1" height="31" fill="#000"/><rect x="492" y="358" width="5" height="13" fill="#000"/><rect x="493" y="359" width="3" height="11" fill="#fff"/><rect x="502" y="333" width="1" height="30" fill="#000"/><rect x="500" y="340" width="5" height="21" fill="#000"/><rect x="501" y="341" width="3" height="19" fill="#fff"/><rect x="510" y="305" width="1" height="49" fill="#000"/><rect x="508" y="329" width="5" height="16" fill="#000"/><rect x="518" y="332" width="1" height="20" fill="#000"/><rect x="516" y="335" width="5" height="10" fill="#000"/><rect x="517" y="336" width="3" height="8" fill="#fff"/><rect x="526" y="335" width="1" height="46" fill="#000"/><rect x="524" y="347" width="5" height="31" fill="#000"/><rect x="534" y="362" width="1" height="25" fill="#000"/><rect x="532" y="365" width="5" height="13" fill="#000"/><rect x="533" y="366" width="3" height="11" fill="#fff"/><rect x="542" y="349" width="1" height="41" fill="#000"/><rect x="540" y="363" width="5" height="22" fill="#000"/><rect x="541" y="364" width="3" height="20" fill="#fff"/><rect x="550" y="363" width="1" height="27" fill="#000"/><rect x="548" y="363" width="5" height="22" fill="#000"/><rect x="558" y="363" width="1" height="41" fill="#000"/><rect x="556" y="373" width="5" height="5" fill="#000"/><rect x="557" y="374" width="3" height="3" fill="#fff"/><rect x="566" y="358" width="1" height="27" fill="#000"/><rect x="564" y="365" width="5" height="9" fill="#000"/><rect x="565" y="366" width="3" height="7" fill="#fff"/><rect x="574" y="362" width="1" height="51" fill="#000"/><rect x="572" y="368" width="5" height="37" fill="#000"/><rect x="582" y="323" width="1" height="79" fill="#000"/><rect x="580" y="327" width="5" height="75" fill="#000"/><rect x="581" y="328" width="3" height="73" fill="#fff"/><rect x="590" y="304" width="1" height="44" fill="#000"/><rect x="588" y="311" width="5" height="29" fill="#000"/><rect x="589" y="312" width="3" height="27" fill="#fff"/><rect x="598" y="303" width="1" height="16" fill="#000"/><rect x="596" y="308" width="5" height="4" fill="#000"/><rect x="597" y="309" width="3" height="2" fill="#fff"/><rect x="606" y="270" width="1" height="40" fill="#000"/><rect x="604" y="295" width="5" height="8" fill="#000"/><rect x="614" y="295" width="1" height="17" fill="#000"/><rect x="612" y="297" width="5" height="5" fill="#000"/><rect x="613" y="298" width="3" height="3" fill="#fff"/><rect x="622" y="302" width="1" height="30" fill="#000"/><rect x="620" y="312" width="5" height="4" fill="#000"/><rect x="630" y="313" width="1" height="17" fill="#000"/><rect x="628" y="316" width="5" height="1" fill="#000"/><rect x="638" y="296" width="1" height="37" fill="#000"/><rect x="636" y="304" width="5" height="16" fill="#000"/><rect x="637" y="305" width="3" height="14" fill="#fff"/><rect x="646" y="287" width="1" height="22" fill="#000"/><rect x="644" y="292" width="5" height="13" fill="#000"/><rect x="645" y="293" width="3" height="11" fill="#fff"/><rect x="654" y="259" width="1" height="38" fill="#000"/><rect x="652" y="272" width="5" height="15" fill="#000"/><rect x="653" y="273" width="3" height="13" fill="#fff"/><rect x="662" y="256" width="1" height="23" fill="#000"/><rect x="660" y="273" width="5" height="3" fill="#000"/><rect x="670" y="246" width="1" height="46" fill="#000"/><rect x="668" y="270" width="5" height="18" fill="#000"/><rect x="678" y="272" width="1" height="16" fill="#000"/><rect x="676" y="276" width="5" height="12" fill="#000"/><rect x="677" y="277" width="3" height="10" fill="#fff"/><rect x="686" y="293" width="1" height="30" fill="#000"/><rect x="684" y="308" width="5" height="10" fill="#000"/><rect x="694" y="317" width="1" height="31" fill="#000"/><rect x="692" y="318" width="5" height="22" fill="#000"/><rect x="702" y="284" width="1" height="42" fill="#000"/><rect x="700" y="289" width="5" height="33" fill="#000"/><rect x="701" y="290" width="3" height="31" fill="#fff"/><rect x="710" y="280" width="1" height="17" fill="#000"/><rect x="708" y="285" width="5" height="5" fill="#000"/><rect x="709" y="286" width="3" height="3" fill="#fff"/><rect x="718" y="309" width="1" height="33" fill="#000"/><rect x="716" y="309" width="5" height="31" fill="#000"/><rect x="726" y="322" width="1" height="32" fill="#000"/><rect x="724" y="323" width="5" height="19" fill="#000"/><rect x="725" y="324" width="3" height="17" fill="#fff"/><rect x="734" y="314" width="1" height="34" fill="#000"/><rect x="732" y="322" width="5" height="8" fill="#000"/><rect x="742" y="326" width="1" height="50" fill="#000"/><rect x="740" y="328" width="5" height="36" fill="#000"/><rect x="750" y="367" width="1" height="34" fill="#000"/><rect x="748" y="375" width="5" height="10" fill="#000"/><rect x="758" y="380" width="1" height="35" fill="#000"/><rect x="756" y="381" width="5" height="28" fill="#000"/><rect x="766" y="406" width="1" height="62" fill="#000"/><rect x="764" y="413" width="5" height="54" fill="#000"/><rect x="774" y="448" width="1" height="24" fill="#000"/><rect x="772" y="451" width="5" height="14" fill="#000"/><rect x="773" y="452" width="3" height="12" fill="#fff"/><rect x="782" y="432" width="1" height="48" fill="#000"/><rect x="780" y="440" width="5" height="12" fill="#000"/><rect x="781" y="441" width="3" height="10" fill="#fff"/><rect x="790" y="420" width="1" height="29" fill="#000"/><rect x="788" y="425" width="5" height="17" fill="#000"/><rect x="789" y="426" width="3" height="15" fill="#fff"/><rect x="798" y="444" width="1" height="100" fill="#000"/><rect x="796" y="450" width="5" height="83" fill="#000"/><rect x="806" y="507" width="1" height="29" fill="#000"/><rect x="804" y="517" width="5" height="18" fill="#000"/><rect x="805" y="518" width="3" height="16" fill="#fff"/><rect x="814" y="504" width="1" height="46" fill="#000"/><rect x="812" y="523" width="5" height="8" fill="#000"/><rect x="813" y="524" width="3" height="6" fill="#fff"/><rect x="822" y="495" width="1" height="43" fill="#000"/><rect x="820" y="504" width="5" height="22" fill="#000"/><rect x="821" y="505" width="3" height="20" fill="#fff"/><rect x="830" y="435" width="1" height="52" fill="#000"/><rect x="828" y="473" width="5" height="12" fill="#000"/><rect x="838" y="465" width="1" height="29" fill="#000"/><rect x="836" y="466" width="5" height="16" fill="#000"/><rect x="837" y="467" width="3" height="14" fill="#fff"/><rect x="846" y="457" width="1" height="37" fill="#000"/><rect x="844" y="472" width="5" height="12" fill="#000"/><rect x="845" y="473" width="3" height="10" fill="#fff"/><rect x="854" y="467" width="1" height="54" fill="#000"/><rect x="852" y="473" width="5" height="35" fill="#000"/><rect x="862" y="469" width="1" height="56" fill="#000"/><rect x="860" y="495" width="5" height="30" fill="#000"/><rect x="861" y="496" width="3" height="28" fill="#fff"/><rect x="870" y="484" width="1" height="30" fill="#000"/><rect x="868" y="496" width="5" height="11" fill="#000"/><rect x="878" y="455" width="1" height="54" fill="#000"/><rect x="876" y="468" width="5" height="36" fill="#000"/><rect x="877" y="469" width="3" height="34" fill="#fff"/><rect x="886" y="452" width="1" height="32" fill="#000"/><rect x="884" y="467" width="5" height="9" fill="#000"/><rect x="894" y="478" width="1" height="49" fill="#000"/><rect x="892" y="489" width="5" height="7" fill="#000"/><rect x="893" y="490" width="3" height="5" fill="#fff"/><rect x="902" y="449" width="1" height="43" fill="#000"/><rect x="900" y="466" width="5" height="22" fill="#000"/><rect x="901" y="467" width="3" height="20" fill="#fff"/><rect x="910" y="462" width="1" height="32" fill="#000"/><rect x="908" y="479" width="5" height="4" fill="#000"/><rect x="909" y="480" width="3" height="2" fill="#fff"/><rect x="918" y="454" width="1" height="27" fill="#000"/><rect x="916" y="465" width="5" height="14" fill="#000"/><rect x="917" y="466" width="3" height="12" fill="#fff"/><rect x="926" y="479" width="1" height="64" fill="#000"/><rect x="924" y="487" width="5" height="43" fill="#000"/><rect x="934" y="515" width="1" height="24" fill="#000"/><rect x="932" y="525" width="5" height="4" fill="#000"/><rect x="942" y="511" width="1" height="54" fill="#000"/><rect x="940" y="513" width="5" height="28" fill="#000"/><rect x="941" y="514" width="3" height="26" fill="#fff"/><rect x="950" y="504" width="1" height="24" fill="#000"/><rect x="948" y="516" width="5" height="4" fill="#000"/><rect x="958" y="501" width="1" height="53" fill="#000"/><rect x="956" y="501" width="5" height="31" fill="#000"/><rect x="966" y="514" width="1" height="28" fill="#000"/><rect x="964" y="529" width="5" height="7" fill="#000"/><rect x="965" y="530" width="3" height="5" fill="#fff"/><rect x="974" y="461" width="1" height="40" fill="#000"/><rect x="972" y="468" width="5" height="32" fill="#000"/><rect x="973" y="469" width="3" height="30" fill="#fff"/><rect x="982" y="444" width="1" height="31" fill="#000"/><rect x="980" y="453" width="5" height="20" fill="#000"/><rect x="981" y="454" width="3" height="18" fill="#fff"/><rect x="990" y="413" width="1" height="50" fill="#000"/><rect x="988" y="424" width="5" height="35" fill="#000"/><rect x="998" y="431" width="1" height="31" fill="#000"/><rect x="996" y="432" width="5" height="28" fill="#000"/><rect x="997" y="433" width="3" height="26" fill="#fff"/><rect x="1006" y="374" width="1" height="42" fill="#000"/><rect x="1004" y="375" width="5" height="41" fill="#000"/><rect x="1005" y="376" width="3" height="39" fill="#fff"/><rect x="1014" y="369" width="1" height="21" fill="#000"/><rect x="1012" y="374" width="5" height="8" fill="#000"/><rect x="1022" y="396" width="1" height="33" fill="#000"/><rect x="1020" y="409" width="5" height="16" fill="#000"/><rect x="1021" y="410" width="3" height="14" fill="#fff"/><rect x="1030" y="406" width="1" height="27" fill="#000"/><rect x="1028" y="409" width="5" height="14" fill="#000"/><rect x="1038" y="415" width="1" height="3" fill="#000"/><rect x="1036" y="416" width="5" height="1" fill="#000"/><rect x="1046" y="387" width="1" height="42" fill="#000"/><rect x="1044" y="395" width="5" height="4" fill="#000"/><rect x="1054" y="374" width="1" height="25" fill="#000"/><rect x="1052" y="377" width="5" height="21" fill="#000"/><rect x="1053" y="378" width="3" height="19" fill="#fff"/><rect x="1062" y="363" width="1" height="40" fill="#000"/><rect x="1060" y="367" width="5" height="24" fill="#000"/><rect x="1070" y="360" width="1" height="44" fill="#000"/><rect x="1068" y="363" width="5" height="29" fill="#000"/><rect x="1069" y="364" width="3" height="27" fill="#fff"/><rect x="1078" y="322" width="1" height="41" fill="#000"/><rect x="1076" y="334" width="5" height="22" fill="#000"/><rect x="1077" y="335" width="3" height="20" fill="#fff"/><rect x="1086" y="322" width="1" height="17" fill="#000"/><rect x="1084" y="325" width="5" height="12" fill="#000"/><rect x="1085" y="326" width="3" height="10" fill="#fff"/><rect x="1094" y="280" width="1" height="37" fill="#000"/><rect x="1092" y="286" width="5" height="20" fill="#000"/><rect x="1093" y="287" width="3" height="18" fill="#fff"/><rect x="1102" y="280" width="1" height="21" fill="#000"/><rect x="1100" y="282" width="5" height="7" fill="#000"/><rect x="1101" y="283" width="3" height="5" fill="#fff"/><rect x="1110" y="275" width="1" height="24" fill="#000"/><rect x="1108" y="287" width="5" height="8" fill="#000"/><rect x="1118" y="295" width="1" height="27" fill="#000"/><rect x="1116" y="296" width="5" height="8" fill="#000"/><rect x="1126" y="280" width="1" height="26" fill="#000"/><rect x="1124" y="285" width="5" height="7" fill="#000"/><rect x="1134" y="283" width="1" height="20" fill="#000"/><rect x="1132" y="287" width="5" height="3" fill="#000"/><rect x="1133" y="288" width="3" height="1" fill="#fff"/><rect x="1142" y="278" width="1" height="35" fill="#000"/><rect x="1140" y="285" width="5" height="16" fill="#000"/><rect x="1141" y="286" width="3" height="14" fill="#fff"/><rect x="1150" y="279" width="1" height="13" fill="#000"/><rect x="1148" y="281" width="5" height="4" fill="#000"/><rect x="1158" y="271" width="1" height="30" fill="#000"/><rect x="1156" y="274" width="5" height="23" fill="#000"/><rect x="1166" y="293" width="1" height="19" fill="#000"/><rect x="1164" y="296" width="5" height="1" fill="#000"/><rect x="1174" y="324" width="1" height="32" fill="#000"/><rect x="1172" y="327" width="5" height="20" fill="#000"/><rect x="1182" y="342" width="1" height="14" fill="#000"/><rect x="1180" y="345" width="5" height="4" fill="#000"/><rect x="1190" y="333" width="1" height="30" fill="#000"/><rect x="1188" y="349" width="5" height="5" fill="#000"/><rect x="1198" y="343" width="1" height="26" fill="#000"/><rect x="1196" y="352" width="5" height="15" fill="#000"/><rect x="1206" y="359" width="1" height="26" fill="#000"/><rect x="1204" y="359" width="5" height="9" fill="#000"/><rect x="1214" y="363" width="1" height="19" fill="#000"/><rect x="1212" y="369" width="5" height="9" fill="#000"/><rect x="1222" y="379" width="1" height="43" fill="#000"/><rect x="1220" y="381" width="5" height="26" fill="#000"/><rect x="1230" y="396" width="1" height="13" fill="#000"/><rect x="1228" y="400" width="5" height="8" fill="#000"/><rect x="1229" y="401" width="3" height="6" fill="#fff"/><rect x="1238" y="342" width="1" height="45" fill="#000"/><rect x="1236" y="358" width="5" height="23" fill="#000"/><rect x="1246" y="378" width="1" height="36" fill="#000"/><rect x="1244" y="378" width="5" height="35" fill="#000"/><rect x="1254" y="395" width="1" height="46" fill="#000"/><rect x="1252" y="420" width="5" height="15" fill="#000"/><rect x="1262" y="408" width="1" height="31" fill="#000"/><rect x="1260" y="410" width="5" height="25" fill="#000"/><rect x="1261" y="411" width="3" height="23" fill="#fff"/><rect x="1270" y="390" width="1" height="27" fill="#000"/><rect x="1268" y="399" width="5" height="10" fill="#000"/><rect x="1278" y="386" width="1" height="29" fill="#000"/><rect x="1276" y="390" width="5" height="19" fill="#000"/><rect x="1277" y="391" width="3" height="17" fill="#fff"/><rect x="1286" y="410" width="1" height="33" fill="#000"/><rect x="1284" y="418" width="5" height="4" fill="#000"/><rect x="1285" y="419" width="3" height="2" fill="#fff"/><rect x="1294" y="415" width="1" height="35" fill="#000"/><rect x="1292" y="417" width="5" height="11" fill="#000"/><rect x="1302" y="430" width="1" height="26" fill="#000"/><rect x="1300" y="442" width="5" height="6" fill="#000"/><rect x="1301" y="443" width="3" height="4" fill="#fff"/><rect x="1310" y="434" width="1" height="17" fill="#000"/><rect x="1308" y="441" width="5" height="3" fill="#000"/><rect x="1309" y="442" width="3" height="1" fill="#fff"/><rect x="1318" y="414" width="1" height="39" fill="#000"/><rect x="1316" y="429" width="5" height="17" fill="#000"/><rect x="1326" y="431" width="1" height="16" fill="#000"/><rect x="1324" y="437" width="5" height="10" fill="#000"/><rect x="1325" y="438" width="3" height="8" fill="#fff"/><rect x="1334" y="431" width="1" height="45" fill="#000"/><rect x="1332" y="447" width="5" height="25" fill="#000"/><rect x="1342" y="408" width="1" height="68" fill="#000"/><rect x="1340" y="410" width="5" height="63" fill="#000"/><rect x="1341" y="411" width="3" height="61" fill="#fff"/><rect x="1350" y="399" width="1" height="39" fill="#000"/><rect x="1348" y="420" width="5" height="13" fill="#000"/><rect x="1349" y="421" width="3" height="11" fill="#fff"/><rect x="1358" y="376" width="1" height="50" fill="#000"/><rect x="1356" y="389" width="5" height="36" fill="#000"/><rect x="1357" y="390" width="3" height="34" fill="#fff"/><rect x="1366" y="353" width="1" height="33" fill="#000"/><rect x="1364" y="358" width="5" height="24" fill="#000"/><rect x="1374" y="373" width="1" height="20" fill="#000"/><rect x="1372" y="377" width="5" height="3" fill="#000"/><rect x="1373" y="378" width="3" height="1" fill="#fff"/><rect x="1382" y="363" width="1" height="30" fill="#000"/><rect x="1380" y="368" width="5" height="17" fill="#000"/><rect x="1390" y="366" width="1" height="19" fill="#000"/><rect x="1388" y="370" width="5" height="14" fill="#000"/><rect x="1389" y="371" width="3" height="12" fill="#fff"/><rect x="1398" y="338" width="1" height="34" fill="#000"/><rect x="1396" y="339" width="5" height="33" fill="#000"/><rect x="1397" y="340" width="3" height="31" fill="#fff"/><rect x="1406" y="329" width="1" height="18" fill="#000"/><rect x="1404" y="339" width="5" height="3" fill="#000"/><rect x="1414" y="341" width="1" height="20" fill="#000"/><rect x="1412" y="342" width="5" height="9" fill="#000"/><rect x="1422" y="340" width="1" height="16" fill="#000"/><rect x="1420" y="341" width="5" height="10" fill="#000"/><rect x="1421" y="342" width="3" height="8" fill="#fff"/></g><line x1="1342" y1="470.5" x2="1422.2" y2="332.6" stroke="#ff0000" stroke-width="4.2"/><polygon points="1427.5,323.5 1425.4,336.7 1417.1,331.9" fill="#ff0000"/><rect x="1368" y="349" width="83" height="8" fill="#00ff00" shape-rendering="crispEdges"/><g fill="#000" shape-rendering="crispEdges"><rect x="4" y="229" width="1" height="1"/><rect x="3" y="230" width="1" height="1"/><rect x="5" y="230" width="1" height="1"/><rect x="4" y="231" width="1" height="1"/></g><polygon points="1427.5,25 1437.5,25 1432.5,30" fill="#c0c0c0"/><text class="axt" x="5.6" y="36" font-size="9" fill="#000" textLength="39.8" lengthAdjust="spacingAndGlyphs">HK50-,H4</text><text class="axt" x="52.6" y="36" font-size="9" fill="#000" textLength="140.2" lengthAdjust="spacingAndGlyphs">25547.0 25634.5 25503.0 25621.0</text><g><rect x="0" y="42" width="213" height="61" fill="#fff"/><rect x="0" y="44" width="45" height="24" fill="url(#gTop)"/><rect x="0" y="44" width="45" height="1" fill="#c00000"/><rect x="0" y="67" width="41" height="1" fill="#8a0000"/><rect x="0" y="68" width="41" height="1" fill="#f06060"/><text x="5" y="60" font-size="12.5" fill="#fff4f4" textLength="25.5" lengthAdjust="spacingAndGlyphs">SELL</text><rect x="160" y="44" width="52" height="24" fill="url(#gTop)"/><rect x="160" y="44" width="52" height="1" fill="#c00000"/><rect x="164" y="67" width="44" height="1" fill="#8a0000"/><rect x="164" y="68" width="44" height="1" fill="#f06060"/><text x="173.5" y="60" font-size="12.5" fill="#fff4f4" textLength="23" lengthAdjust="spacingAndGlyphs">BUY</text><rect x="0" y="68" width="102" height="33" fill="url(#gBot)"/><rect x="0" y="68" width="45" height="1" fill="url(#gTop)"/><rect x="104" y="68" width="108" height="33" fill="url(#gBot)"/><rect x="160" y="68" width="52" height="1" fill="#e03434"/><text x="8.5" y="96" font-size="13" font-weight="bold" fill="#fff" textLength="35" lengthAdjust="spacingAndGlyphs">25619</text><text x="47.3" y="95.6" font-size="19" font-weight="bold" fill="#fff">.</text><text transform="translate(53.4,96.2) scale(1.14,1)" font-size="33" fill="#fff">5</text><text x="119" y="96" font-size="13" font-weight="bold" fill="#fff" textLength="35" lengthAdjust="spacingAndGlyphs">25636</text><text x="158.3" y="95.6" font-size="19" font-weight="bold" fill="#fff">.</text><text transform="translate(164.3,96.2) scale(1.14,1)" font-size="33" fill="#fff">5</text><rect x="47.5" y="44.5" width="110" height="21" fill="#fff" stroke="#a8abb4" stroke-width="1" shape-rendering="crispEdges"/><rect x="49" y="46" width="19" height="18" fill="url(#gBtn)"/><rect x="68" y="45" width="1" height="20" fill="#b8bac2"/><rect x="136" y="45" width="1" height="20" fill="#b8bac2"/><rect x="138" y="46" width="19" height="18" fill="url(#gBtn)"/><polygon points="55.5,53 61.5,53 58.5,56" fill="#5a6cc8"/><polygon points="144,56 150,56 147,53" fill="#5a6cc8"/><text x="133" y="59" font-size="12" fill="#000" text-anchor="end">1.00</text></g></g><g class="ax" font-size="9" fill="#000"><rect x="1650" y="46" width="2" height="1" shape-rendering="crispEdges"/><text x="1655" y="50" textLength="33" lengthAdjust="spacingAndGlyphs">28251.0</text><rect x="1650" y="79" width="2" height="1" shape-rendering="crispEdges"/><text x="1655" y="83" textLength="33" lengthAdjust="spacingAndGlyphs">27962.0</text><rect x="1650" y="112" width="2" height="1" shape-rendering="crispEdges"/><text x="1655" y="116" textLength="33" lengthAdjust="spacingAndGlyphs">27664.5</text><rect x="1650" y="145" width="2" height="1" shape-rendering="crispEdges"/><text x="1655" y="149" textLength="33" lengthAdjust="spacingAndGlyphs">27375.5</text><rect x="1650" y="178" width="2" height="1" shape-rendering="crispEdges"/><text x="1655" y="182" textLength="33" lengthAdjust="spacingAndGlyphs">27078.0</text><rect x="1650" y="211" width="2" height="1" shape-rendering="crispEdges"/><text x="1655" y="215" textLength="33" lengthAdjust="spacingAndGlyphs">26780.5</text><rect x="1650" y="244" width="2" height="1" shape-rendering="crispEdges"/><text x="1655" y="248" textLength="33" lengthAdjust="spacingAndGlyphs">26491.5</text><rect x="1650" y="277" width="2" height="1" shape-rendering="crispEdges"/><text x="1655" y="281" textLength="33" lengthAdjust="spacingAndGlyphs">26194.0</text><rect x="1650" y="310" width="2" height="1" shape-rendering="crispEdges"/><text x="1655" y="314" textLength="33" lengthAdjust="spacingAndGlyphs">25905.0</text><rect x="1650" y="343" width="2" height="1" shape-rendering="crispEdges"/><text x="1655" y="347" textLength="33" lengthAdjust="spacingAndGlyphs">25616.0</text><rect x="1650" y="376" width="2" height="1" shape-rendering="crispEdges"/><text x="1655" y="380" textLength="33" lengthAdjust="spacingAndGlyphs">25326.5</text><rect x="1650" y="409" width="2" height="1" shape-rendering="crispEdges"/><text x="1655" y="413" textLength="33" lengthAdjust="spacingAndGlyphs">25021.0</text><rect x="1650" y="442" width="2" height="1" shape-rendering="crispEdges"/><text x="1655" y="446" textLength="33" lengthAdjust="spacingAndGlyphs">24723.5</text><rect x="1650" y="475" width="2" height="1" shape-rendering="crispEdges"/><text x="1655" y="479" textLength="33" lengthAdjust="spacingAndGlyphs">24426.0</text><rect x="1650" y="508" width="2" height="1" shape-rendering="crispEdges"/><text x="1655" y="512" textLength="33" lengthAdjust="spacingAndGlyphs">24137.0</text><rect x="1650" y="541" width="2" height="1" shape-rendering="crispEdges"/><text x="1655" y="545" textLength="33" lengthAdjust="spacingAndGlyphs">23839.5</text><rect x="1650" y="574" width="2" height="1" shape-rendering="crispEdges"/><text x="1655" y="578" textLength="33" lengthAdjust="spacingAndGlyphs">23550.5</text></g><rect x="1651" y="289" width="41" height="11" fill="#ff0000" shape-rendering="crispEdges"/><text x="1655" y="298" font-size="9" fill="#fff" textLength="33" lengthAdjust="spacingAndGlyphs">26034.9</text><rect x="1651" y="310" width="41" height="11" fill="#ff0000" shape-rendering="crispEdges"/><text x="1655" y="319" font-size="9" fill="#fff" textLength="33" lengthAdjust="spacingAndGlyphs">25848.0</text><rect x="1651" y="336" width="41" height="11" fill="#000000" shape-rendering="crispEdges"/><text x="1655" y="345" font-size="9" fill="#fff" textLength="33" lengthAdjust="spacingAndGlyphs">25621.0</text><rect x="1651" y="348" width="41" height="11" fill="#32cd32" shape-rendering="crispEdges"/><text x="1655" y="357" font-size="9" fill="#fff" textLength="33" lengthAdjust="spacingAndGlyphs">25509.8</text><rect x="1651" y="371" width="41" height="11" fill="#0000ff" shape-rendering="crispEdges"/><text x="1655" y="380" font-size="9" fill="#fff" textLength="33" lengthAdjust="spacingAndGlyphs">25305.1</text><rect x="1651" y="399" width="41" height="11" fill="#0000ff" shape-rendering="crispEdges"/><text x="1655" y="408" font-size="9" fill="#fff" textLength="33" lengthAdjust="spacingAndGlyphs">25055.9</text><g clip-path="url(#cmacd)"><g shape-rendering="crispEdges" fill="#c0c0c0"><rect x="6" y="645" width="1" height="49"/><rect x="14" y="645" width="1" height="43"/><rect x="22" y="645" width="1" height="37"/><rect x="30" y="645" width="1" height="34"/><rect x="38" y="645" width="1" height="32"/><rect x="46" y="645" width="1" height="25"/><rect x="54" y="645" width="1" height="21"/><rect x="62" y="645" width="1" height="17"/><rect x="70" y="645" width="1" height="13"/><rect x="78" y="645" width="1" height="17"/><rect x="86" y="645" width="1" height="21"/><rect x="94" y="645" width="1" height="25"/><rect x="102" y="645" width="1" height="30"/><rect x="110" y="645" width="1" height="33"/><rect x="118" y="645" width="1" height="34"/><rect x="126" y="645" width="1" height="28"/><rect x="134" y="645" width="1" height="28"/><rect x="142" y="645" width="1" height="25"/><rect x="150" y="645" width="1" height="31"/><rect x="158" y="645" width="1" height="47"/><rect x="166" y="645" width="1" height="57"/><rect x="174" y="645" width="1" height="74"/><rect x="182" y="645" width="1" height="90"/><rect x="190" y="645" width="1" height="95"/><rect x="198" y="645" width="1" height="91"/><rect x="206" y="645" width="1" height="83"/><rect x="214" y="645" width="1" height="83"/><rect x="222" y="645" width="1" height="81"/><rect x="230" y="645" width="1" height="75"/><rect x="238" y="645" width="1" height="69"/><rect x="246" y="645" width="1" height="65"/><rect x="254" y="645" width="1" height="61"/><rect x="262" y="645" width="1" height="51"/><rect x="270" y="645" width="1" height="45"/><rect x="278" y="645" width="1" height="40"/><rect x="286" y="645" width="1" height="37"/><rect x="294" y="645" width="1" height="35"/><rect x="302" y="645" width="1" height="33"/><rect x="310" y="645" width="1" height="29"/><rect x="318" y="645" width="1" height="27"/><rect x="326" y="645" width="1" height="19"/><rect x="334" y="645" width="1" height="15"/><rect x="342" y="645" width="1" height="11"/><rect x="350" y="645" width="1" height="7"/><rect x="358" y="645" width="1" height="6"/><rect x="366" y="645" width="1" height="7"/><rect x="374" y="645" width="1" height="7"/><rect x="382" y="645" width="1" height="7"/><rect x="390" y="645" width="1" height="7"/><rect x="398" y="645" width="1" height="9"/><rect x="406" y="645" width="1" height="12"/><rect x="414" y="645" width="1" height="13"/><rect x="422" y="645" width="1" height="20"/><rect x="430" y="645" width="1" height="21"/><rect x="438" y="645" width="1" height="23"/><rect x="446" y="645" width="1" height="29"/><rect x="454" y="645" width="1" height="35"/><rect x="462" y="645" width="1" height="47"/><rect x="470" y="645" width="1" height="53"/><rect x="478" y="645" width="1" height="52"/><rect x="486" y="645" width="1" height="53"/><rect x="494" y="645" width="1" height="49"/><rect x="502" y="645" width="1" height="43"/><rect x="510" y="645" width="1" height="37"/><rect x="518" y="645" width="1" height="33"/><rect x="526" y="645" width="1" height="33"/><rect x="534" y="645" width="1" height="31"/><rect x="542" y="645" width="1" height="29"/><rect x="550" y="645" width="1" height="29"/><rect x="558" y="645" width="1" height="28"/><rect x="566" y="645" width="1" height="25"/><rect x="574" y="645" width="1" height="29"/><rect x="582" y="645" width="1" height="22"/><rect x="590" y="645" width="1" height="14"/><rect x="598" y="645" width="1" height="9"/><rect x="606" y="645" width="1" height="3"/><rect x="614" y="645" width="1" height="1"/><rect x="622" y="644" width="1" height="1"/><rect x="630" y="641" width="1" height="4"/><rect x="638" y="639" width="1" height="6"/><rect x="646" y="636" width="1" height="9"/><rect x="654" y="632" width="1" height="13"/><rect x="662" y="629" width="1" height="16"/><rect x="670" y="628" width="1" height="17"/><rect x="678" y="627" width="1" height="18"/><rect x="686" y="630" width="1" height="15"/><rect x="694" y="635" width="1" height="10"/><rect x="702" y="634" width="1" height="11"/><rect x="710" y="634" width="1" height="11"/><rect x="718" y="638" width="1" height="7"/><rect x="726" y="640" width="1" height="5"/><rect x="734" y="642" width="1" height="3"/><rect x="742" y="645" width="1" height="1"/><rect x="750" y="645" width="1" height="7"/><rect x="758" y="645" width="1" height="14"/><rect x="766" y="645" width="1" height="27"/><rect x="774" y="645" width="1" height="35"/><rect x="782" y="645" width="1" height="39"/><rect x="790" y="645" width="1" height="40"/><rect x="798" y="645" width="1" height="52"/><rect x="806" y="645" width="1" height="59"/><rect x="814" y="645" width="1" height="63"/><rect x="822" y="645" width="1" height="65"/><rect x="830" y="645" width="1" height="63"/><rect x="838" y="645" width="1" height="60"/><rect x="846" y="645" width="1" height="57"/><rect x="854" y="645" width="1" height="58"/><rect x="862" y="645" width="1" height="56"/><rect x="870" y="645" width="1" height="55"/><rect x="878" y="645" width="1" height="51"/><rect x="886" y="645" width="1" height="47"/><rect x="894" y="645" width="1" height="45"/><rect x="902" y="645" width="1" height="40"/><rect x="910" y="645" width="1" height="38"/><rect x="918" y="645" width="1" height="34"/><rect x="926" y="645" width="1" height="37"/><rect x="934" y="645" width="1" height="39"/><rect x="942" y="645" width="1" height="38"/><rect x="950" y="645" width="1" height="37"/><rect x="958" y="645" width="1" height="38"/><rect x="966" y="645" width="1" height="39"/><rect x="974" y="645" width="1" height="32"/><rect x="982" y="645" width="1" height="25"/><rect x="990" y="645" width="1" height="19"/><rect x="998" y="645" width="1" height="12"/><rect x="1014" y="638" width="1" height="7"/><rect x="1022" y="634" width="1" height="11"/><rect x="1030" y="633" width="1" height="12"/><rect x="1038" y="631" width="1" height="14"/><rect x="1046" y="628" width="1" height="17"/><rect x="1054" y="624" width="1" height="21"/><rect x="1062" y="622" width="1" height="23"/><rect x="1070" y="618" width="1" height="27"/><rect x="1078" y="613" width="1" height="32"/><rect x="1086" y="608" width="1" height="37"/><rect x="1094" y="600" width="1" height="45"/><rect x="1102" y="594" width="1" height="51"/><rect x="1110" y="591" width="1" height="54"/><rect x="1118" y="591" width="1" height="54"/><rect x="1126" y="590" width="1" height="55"/><rect x="1134" y="589" width="1" height="56"/><rect x="1142" y="589" width="1" height="56"/><rect x="1150" y="590" width="1" height="55"/><rect x="1158" y="591" width="1" height="54"/><rect x="1166" y="594" width="1" height="51"/><rect x="1174" y="602" width="1" height="43"/><rect x="1182" y="609" width="1" height="36"/><rect x="1190" y="615" width="1" height="30"/><rect x="1198" y="621" width="1" height="24"/><rect x="1206" y="627" width="1" height="18"/><rect x="1214" y="633" width="1" height="12"/><rect x="1222" y="640" width="1" height="5"/><rect x="1238" y="645" width="1" height="1"/><rect x="1246" y="645" width="1" height="7"/><rect x="1254" y="645" width="1" height="13"/><rect x="1262" y="645" width="1" height="15"/><rect x="1270" y="645" width="1" height="15"/><rect x="1278" y="645" width="1" height="14"/><rect x="1286" y="645" width="1" height="17"/><rect x="1294" y="645" width="1" height="19"/><rect x="1302" y="645" width="1" height="23"/><rect x="1310" y="645" width="1" height="25"/><rect x="1318" y="645" width="1" height="25"/><rect x="1326" y="645" width="1" height="27"/><rect x="1334" y="645" width="1" height="29"/><rect x="1342" y="645" width="1" height="26"/><rect x="1350" y="645" width="1" height="23"/><rect x="1358" y="645" width="1" height="19"/><rect x="1366" y="645" width="1" height="13"/><rect x="1374" y="645" width="1" height="9"/><rect x="1382" y="645" width="1" height="5"/><rect x="1390" y="645" width="1" height="1"/><rect x="1398" y="641" width="1" height="4"/><rect x="1406" y="637" width="1" height="8"/><rect x="1414" y="634" width="1" height="11"/><rect x="1422" y="632" width="1" height="13"/></g><polyline points="-2.0,684.0 2.0,685.0 12.5,689.0 25.0,690.5 38.8,690.0 50.0,685.5 62.5,679.0 75.0,673.0 87.5,669.0 105.0,668.5 120.0,669.5 135.0,670.5 147.5,673.0 160.0,674.0 172.5,679.0 185.0,685.5 195.0,695.5 207.5,707.0 220.0,717.0 232.5,724.0 247.5,728.0 260.0,725.5 270.0,719.0 282.5,712.0 295.0,703.0 310.0,695.5 325.0,686.0 337.5,679.0 350.0,675.0 362.5,668.5 375.0,664.0 390.0,658.5 405.0,656.0 415.0,655.5 422.0,656.8 435.0,658.0 447.5,661.8 460.0,668.0 472.5,675.0 485.0,683.0 495.0,686.0 505.0,689.2 520.0,690.5 535.0,688.0 550.0,683.0 565.0,678.0 577.5,675.5 590.0,671.8 605.0,666.8 620.0,660.0 635.0,652.5 650.0,645.0 665.0,639.2 675.0,635.5 687.5,633.0 702.5,631.8 711.2,630.5 727.5,631.2 740.0,634.2 752.5,639.2 765.0,645.0 775.0,650.5 785.0,659.2 795.0,665.5 805.0,675.5 815.0,683.0 825.0,691.8 835.0,697.5 842.0,699.2 855.0,703.0 867.5,705.5 880.0,703.0 892.5,700.5 905.0,696.0 917.5,693.0 930.0,689.2 945.0,685.5 957.5,684.2 972.5,683.0 985.0,680.5 995.0,676.8 1007.5,671.0 1020.0,663.0 1032.5,653.0 1045.0,645.0 1060.0,636.8 1072.5,628.0 1087.5,623.0 1100.0,616.8 1112.5,609.2 1125.0,603.0 1137.5,597.5 1150.0,593.0 1165.0,590.0 1177.5,591.8 1190.0,595.5 1205.0,602.5 1220.0,611.8 1235.0,623.0 1250.0,634.2 1260.0,641.8 1272.5,647.5 1285.0,653.0 1297.5,658.5 1310.0,661.8 1322.0,664.2 1330.0,666.7 1347.0,669.5 1359.6,669.5 1371.0,668.4 1382.3,665.2 1395.0,660.6 1407.8,653.6 1420.5,647.2" fill="none" stroke="#ff0000" stroke-width="1" stroke-dasharray="3,3" shape-rendering="crispEdges"/><line x1="1331.5" y1="671.5" x2="1421.5" y2="627.7" stroke="#ff0000" stroke-width="4"/><polygon points="1430.0,623.5 1421.8,632.9 1417.6,624.2" fill="#ff0000"/><text class="axt" y="591.5" font-size="9" fill="#000"><tspan x="-5.6">M</tspan><tspan x="1.7" textLength="57.3" lengthAdjust="spacingAndGlyphs">ACD(12,26,9)</tspan> <tspan x="63.6" textLength="51.6" lengthAdjust="spacingAndGlyphs">101.96 -3.26</tspan></text></g><g class="ax" font-size="9" fill="#000"><rect x="1650" y="581" width="2" height="1" shape-rendering="crispEdges"/><rect x="1650" y="645" width="2" height="1" shape-rendering="crispEdges"/><rect x="1650" y="748" width="2" height="1" shape-rendering="crispEdges"/><text x="1654" y="590" textLength="28" lengthAdjust="spacingAndGlyphs">443.46</text><text x="1654" y="649">0.00</text><text x="1653" y="745.5" textLength="31" lengthAdjust="spacingAndGlyphs">-706.76</text></g><g clip-path="url(#crsi)"><g stroke="#c0c0c0" stroke-width="1" stroke-dasharray="3,3" shape-rendering="crispEdges"><line x1="3" y1="787.5" x2="1649" y2="787.5"/><line x1="3" y1="838.5" x2="1649" y2="838.5"/><line x1="3" y1="899.5" x2="1649" y2="899.5"/></g><polyline points="-1.5,863.0 6.5,861.0 14.5,840.0 22.5,844.0 30.5,849.0 38.5,847.0 46.5,833.0 54.5,838.0 62.5,835.0 70.5,838.0 78.5,856.0 86.5,857.5 94.5,865.0 102.5,862.5 110.5,865.5 118.5,859.0 126.5,840.0 134.5,840.0 142.5,849.0 150.5,854.0 158.5,871.0 166.5,878.0 174.5,880.0 182.5,891.0 190.5,891.0 198.5,879.0 206.5,857.0 214.5,853.0 222.5,861.0 230.5,857.0 238.5,850.5 246.5,850.5 254.5,854.5 262.5,850.0 270.5,838.0 278.5,842.0 286.5,844.5 294.5,849.0 302.5,847.0 310.5,849.0 318.5,840.0 326.5,844.5 334.5,843.0 342.5,836.0 350.5,834.5 358.5,834.5 366.5,834.5 374.5,840.0 382.5,846.0 390.5,842.5 398.5,849.0 406.5,851.0 414.5,855.0 422.5,864.5 430.5,855.5 438.5,859.0 446.5,869.5 454.5,872.5 462.5,882.0 470.5,878.0 478.5,857.0 486.5,861.0 494.5,847.0 502.5,844.0 510.5,843.0 518.5,841.0 526.5,851.0 534.5,848.0 542.5,847.0 550.5,853.0 558.5,849.5 566.5,846.0 574.5,856.0 582.5,834.0 590.5,829.5 598.5,829.5 606.5,827.5 614.5,826.0 622.5,832.0 630.5,833.0 638.5,829.0 646.5,824.5 654.5,820.5 662.5,820.5 670.5,826.0 678.5,823.0 686.5,838.0 694.5,847.0 702.5,830.5 710.5,829.5 718.5,846.0 726.5,841.0 734.5,843.0 742.5,852.5 750.5,857.0 758.5,864.0 766.5,873.0 774.5,869.0 782.5,864.5 790.5,860.0 798.5,877.0 806.5,872.5 814.5,874.0 822.5,866.0 830.5,859.5 838.5,854.5 846.5,855.0 854.5,862.0 862.5,859.5 870.5,861.0 878.5,849.0 886.5,850.0 894.5,853.0 902.5,846.0 910.5,849.5 918.5,845.5 926.5,860.0 934.5,860.0 942.5,855.5 950.5,856.0 958.5,859.5 966.5,858.0 974.5,836.0 982.5,832.0 990.5,834.5 998.5,826.0 1006.5,814.0 1014.5,815.5 1022.5,824.5 1030.5,830.0 1038.5,828.0 1046.5,824.0 1054.5,819.0 1062.5,823.0 1070.5,816.0 1078.5,810.5 1086.5,809.0 1094.5,802.0 1102.5,800.5 1110.5,804.5 1118.5,809.0 1126.5,807.5 1134.5,806.0 1142.5,805.0 1150.5,805.5 1158.5,812.0 1166.5,812.5 1174.5,837.5 1182.5,837.5 1190.5,840.0 1198.5,845.0 1206.5,846.0 1214.5,850.0 1222.5,861.0 1230.5,857.5 1238.5,846.0 1246.5,858.0 1254.5,864.0 1262.5,853.0 1270.5,852.0 1278.5,844.5 1286.5,853.0 1294.5,856.0 1302.5,861.0 1310.5,861.0 1318.5,861.0 1326.5,858.0 1334.5,868.0 1342.5,844.5 1350.5,843.8 1358.5,834.5 1366.5,830.5 1374.5,830.0 1382.5,832.0 1390.5,826.0 1398.5,818.0 1406.5,818.0 1414.5,823.0 1422.5,820.0" fill="none" stroke="#1e90ff" stroke-width="1" shape-rendering="crispEdges"/><line x1="1340" y1="844" x2="1411.5" y2="818.5" stroke="#ff0000" stroke-width="3.8"/><polygon points="1420.0,815.5 1411.2,823.5 1408.1,814.9" fill="#ff0000"/><text class="axt" x="-6" y="764" font-size="9" fill="#000" textLength="67.5" lengthAdjust="spacingAndGlyphs">RSI(14) 60.6860</text></g><g class="ax" font-size="9" fill="#000"><rect x="1650" y="753" width="2" height="1" shape-rendering="crispEdges"/><rect x="1650" y="787" width="2" height="1" shape-rendering="crispEdges"/><rect x="1650" y="838" width="2" height="1" shape-rendering="crispEdges"/><rect x="1650" y="899" width="2" height="1" shape-rendering="crispEdges"/><rect x="1650" y="924" width="2" height="1" shape-rendering="crispEdges"/><text x="1653.5" y="762">100</text><text x="1653.5" y="791">80</text><text x="1653.5" y="842">50</text><text x="1653.5" y="903">15</text><text x="1653.5" y="922">0</text></g><g class="ax" font-size="9" fill="#000"><text x="-8.5" y="937.6" textLength="42.1" lengthAdjust="spacingAndGlyphs">9 Jul 2021</text><rect x="54" y="926" width="1" height="3" shape-rendering="crispEdges"/><text x="53" y="937.6" textLength="50.2" lengthAdjust="spacingAndGlyphs">15 Jul 05:00</text><rect x="118" y="926" width="1" height="3" shape-rendering="crispEdges"/><text x="117" y="937.6" textLength="50.2" lengthAdjust="spacingAndGlyphs">21 Jul 05:00</text><rect x="182" y="926" width="1" height="3" shape-rendering="crispEdges"/><text x="181" y="937.6" textLength="50.2" lengthAdjust="spacingAndGlyphs">27 Jul 05:00</text><rect x="246" y="926" width="1" height="3" shape-rendering="crispEdges"/><text x="245" y="937.6" textLength="51.2" lengthAdjust="spacingAndGlyphs">2 Aug 05:00</text><rect x="310" y="926" width="1" height="3" shape-rendering="crispEdges"/><text x="309" y="937.6" textLength="51.2" lengthAdjust="spacingAndGlyphs">6 Aug 05:00</text><rect x="374" y="926" width="1" height="3" shape-rendering="crispEdges"/><text x="373" y="937.6" textLength="56.5" lengthAdjust="spacingAndGlyphs">12 Aug 05:00</text><rect x="438" y="926" width="1" height="3" shape-rendering="crispEdges"/><text x="437" y="937.6" textLength="56.5" lengthAdjust="spacingAndGlyphs">18 Aug 05:00</text><rect x="502" y="926" width="1" height="3" shape-rendering="crispEdges"/><text x="501" y="937.6" textLength="56.5" lengthAdjust="spacingAndGlyphs">24 Aug 05:00</text><rect x="566" y="926" width="1" height="3" shape-rendering="crispEdges"/><text x="565" y="937.6" textLength="56.5" lengthAdjust="spacingAndGlyphs">30 Aug 05:00</text><rect x="630" y="926" width="1" height="3" shape-rendering="crispEdges"/><text x="629" y="937.6" textLength="50.6" lengthAdjust="spacingAndGlyphs">3 Sep 05:00</text><rect x="694" y="926" width="1" height="3" shape-rendering="crispEdges"/><text x="693" y="937.6" textLength="50.6" lengthAdjust="spacingAndGlyphs">9 Sep 05:00</text><rect x="758" y="926" width="1" height="3" shape-rendering="crispEdges"/><text x="757" y="937.6" textLength="55.9" lengthAdjust="spacingAndGlyphs">15 Sep 05:00</text><rect x="822" y="926" width="1" height="3" shape-rendering="crispEdges"/><text x="821" y="937.6" textLength="55.9" lengthAdjust="spacingAndGlyphs">21 Sep 05:00</text><rect x="886" y="926" width="1" height="3" shape-rendering="crispEdges"/><text x="885" y="937.6" textLength="55.9" lengthAdjust="spacingAndGlyphs">28 Sep 05:00</text><rect x="950" y="926" width="1" height="3" shape-rendering="crispEdges"/><text x="949" y="937.6" textLength="49.3" lengthAdjust="spacingAndGlyphs">5 Oct 05:00</text><rect x="1014" y="926" width="1" height="3" shape-rendering="crispEdges"/><text x="1013" y="937.6" textLength="54.6" lengthAdjust="spacingAndGlyphs">11 Oct 05:00</text><rect x="1078" y="926" width="1" height="3" shape-rendering="crispEdges"/><text x="1077" y="937.6" textLength="54.6" lengthAdjust="spacingAndGlyphs">19 Oct 01:15</text><rect x="1142" y="926" width="1" height="3" shape-rendering="crispEdges"/><text x="1141" y="937.6" textLength="54.6" lengthAdjust="spacingAndGlyphs">25 Oct 01:15</text><rect x="1206" y="926" width="1" height="3" shape-rendering="crispEdges"/><text x="1205" y="937.6" textLength="54.6" lengthAdjust="spacingAndGlyphs">29 Oct 01:15</text><rect x="1270" y="926" width="1" height="3" shape-rendering="crispEdges"/><text x="1269" y="937.6" textLength="51.2" lengthAdjust="spacingAndGlyphs">4 Nov 01:15</text><rect x="1334" y="926" width="1" height="3" shape-rendering="crispEdges"/><text x="1333" y="937.6" textLength="56.5" lengthAdjust="spacingAndGlyphs">10 Nov 01:15</text><rect x="1398" y="926" width="1" height="3" shape-rendering="crispEdges"/><text x="1397" y="937.6" textLength="56.5" lengthAdjust="spacingAndGlyphs">16 Nov 01:15</text></g></svg></body></html>
